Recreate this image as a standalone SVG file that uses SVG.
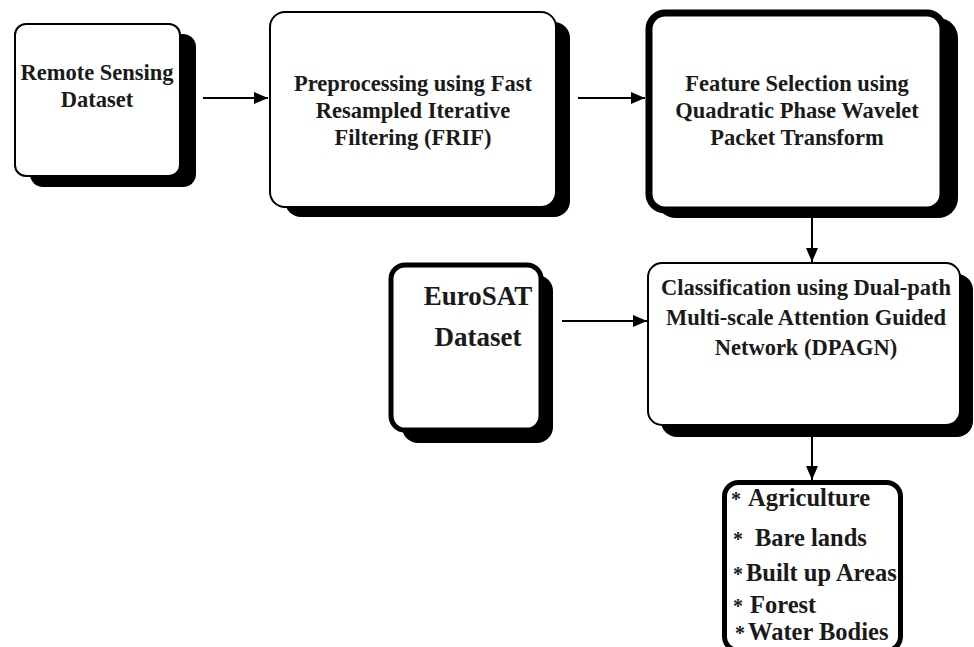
<svg xmlns="http://www.w3.org/2000/svg" width="974" height="647" viewBox="0 0 974 647">
<defs>
<style>
.t{font-family:"Liberation Serif","Times New Roman",serif;font-weight:bold;fill:#1a1a1a;text-anchor:middle;font-size:22.5px}
.l{font-family:"Liberation Serif","Times New Roman",serif;font-weight:bold;fill:#1a1a1a;font-size:24.5px}
.a{font-size:20px}
.sh{fill:#000}
.box{fill:#fff;stroke:#000}
.ln{stroke:#000;stroke-width:2;fill:none}
</style>
<marker id="ah" markerWidth="14" markerHeight="12" refX="14" refY="6" orient="auto" markerUnits="userSpaceOnUse">
<path d="M0,0 L14,6 L0,12 Z" fill="#000"/>
</marker>
</defs>
<rect width="974" height="647" fill="#fff"/>

<g id="remote">
<rect class="sh" x="30" y="34" width="166" height="153" rx="13"/>
<rect class="box" x="15" y="24" width="165" height="152" rx="11" stroke-width="2"/>
<text class="t" x="97" y="80">Remote Sensing</text>
<text class="t" x="97" y="107">Dataset</text>
</g>

<g id="preprocessing">
<rect class="sh" x="285" y="22" width="285" height="195" rx="16"/>
<rect class="box" x="270" y="12" width="286" height="195" rx="15" stroke-width="2"/>
<text class="t" x="413" y="91">Preprocessing using Fast</text>
<text class="t" x="413" y="118">Resampled Iterative</text>
<text class="t" x="413" y="145">Filtering (FRIF)</text>
</g>

<g id="feature">
<rect class="sh" x="656" y="18" width="302" height="200" rx="20"/>
<rect class="box" x="649" y="13" width="294" height="197" rx="16" stroke-width="7"/>
<text class="t" x="797" y="91">Feature Selection using</text>
<text class="t" x="797" y="118">Quadratic Phase Wavelet</text>
<text class="t" x="797" y="145">Packet Transform</text>
</g>

<g id="eurosat">
<rect class="sh" x="402" y="275" width="151" height="168" rx="16"/>
<rect class="box" x="391" y="265" width="150" height="165" rx="14" stroke-width="5"/>
<text class="t" x="478" y="305" style="font-size:27px">EuroSAT</text>
<text class="t" x="478" y="346" style="font-size:27px">Dataset</text>
</g>

<g id="classification">
<rect class="sh" x="661" y="274" width="312" height="163" rx="16"/>
<rect class="box" x="648" y="263" width="312" height="162" rx="14" stroke-width="2"/>
<text class="t" x="806" y="295">Classification using Dual-path</text>
<text class="t" x="806" y="325">Multi-scale Attention Guided</text>
<text class="t" x="806" y="355">Network (DPAGN)</text>
</g>

<g id="classes">
<rect class="box" x="724.5" y="482.5" width="176" height="168" rx="14" stroke-width="5"/>
<text class="l" y="506"><tspan class="a" x="731">*</tspan><tspan x="748">Agriculture</tspan></text>
<text class="l" y="546"><tspan class="a" x="733">*</tspan><tspan x="755">Bare lands</tspan></text>
<text class="l" y="581"><tspan class="a" x="733">*</tspan><tspan x="746">Built up Areas</tspan></text>
<text class="l" y="613"><tspan class="a" x="733">*</tspan><tspan x="750">Forest</tspan></text>
<text class="l" y="640"><tspan class="a" x="735">*</tspan><tspan x="748">Water Bodies</tspan></text>
</g>

<g id="connectors">
<line class="ln" x1="203" y1="98" x2="268" y2="98" marker-end="url(#ah)"/>
<line class="ln" x1="578" y1="98" x2="645" y2="98" marker-end="url(#ah)"/>
<line class="ln" x1="812" y1="218" x2="812" y2="262" marker-end="url(#ah)"/>
<line class="ln" x1="562" y1="321" x2="647" y2="321" marker-end="url(#ah)"/>
<line class="ln" x1="812" y1="437" x2="812" y2="480" marker-end="url(#ah)"/>
</g>
</svg>
